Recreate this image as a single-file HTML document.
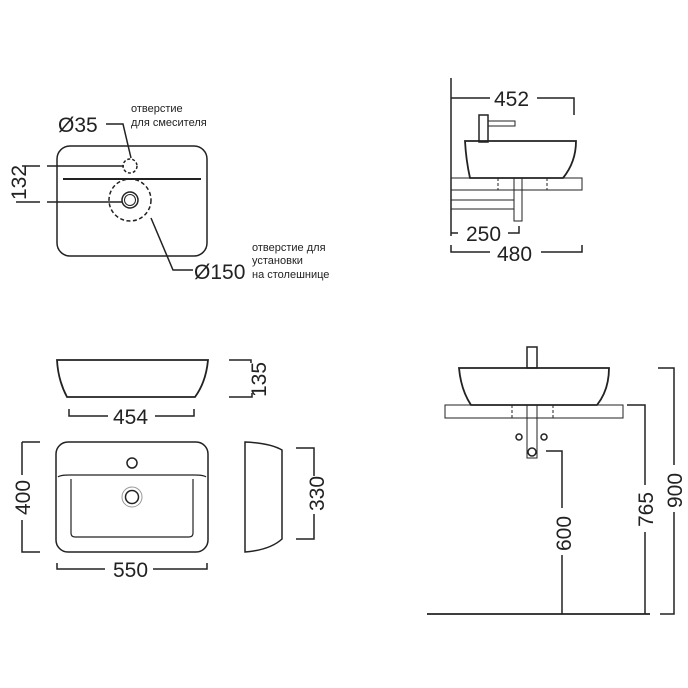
<!DOCTYPE html>
<html><head><meta charset="utf-8"><style>body{margin:0;background:#fff}svg{display:block}text{font-family:"Liberation Sans",sans-serif;fill:#222}</style></head><body>
<svg width="688" height="688" viewBox="0 0 688 688" xmlns="http://www.w3.org/2000/svg" fill="none" stroke="#222" stroke-width="1.5">
<rect x="57" y="146" width="150" height="110" rx="13"/>
<line x1="63" y1="179" x2="201" y2="179" stroke-width="2"/>
<circle cx="130" cy="166" r="7" stroke-dasharray="3 2"/>
<circle cx="130" cy="200" r="21" stroke-dasharray="4 2.5"/>
<circle cx="130" cy="200" r="8"/><circle cx="130" cy="200" r="5.5" stroke-width="1"/>
<path d="M22 166H40M47 166H124M16 202H40M47 202H122"/>
<text x="0" y="0" font-size="21" transform="translate(26,200) rotate(-90)" stroke="none">132</text>
<text x="58" y="132" font-size="21" stroke="none">Ø35</text>
<path d="M106 124H123L131 158"/>
<text x="131" y="112" font-size="11" stroke="none">отверстие</text>
<text x="131" y="126" font-size="11" stroke="none">для смесителя</text>
<path d="M151 218L173 270H193"/>
<text x="194" y="279" font-size="21" stroke="none">Ø150</text>
<text x="252" y="251" font-size="11" stroke="none">отверстие для</text>
<text x="252" y="264" font-size="11" stroke="none">установки</text>
<text x="252" y="278" font-size="11" stroke="none">на столешнице</text>
<path d="M451 78V236"/>
<path d="M451 98H490M537 98H574V115"/>
<text x="494" y="106" font-size="21" stroke="none">452</text>
<rect x="479" y="115" width="9" height="27"/>
<rect x="488" y="121" width="27" height="5" stroke-width="1"/>
<path d="M465 141H576Q576 162 563 178H470Q466 160 465 141Z" stroke-width="1.8"/>
<rect x="451" y="178" width="131" height="12" stroke-width="1"/>
<path d="M498 178V190M547 178V190M498 190H547" stroke-dasharray="3 2" stroke-width="1"/>
<path d="M451 200H514M451 209H514" stroke-width="1"/>
<rect x="514" y="178" width="8" height="43" stroke-width="1"/>
<path d="M451 233H458M508 233H519V226"/>
<text x="466" y="241" font-size="21" stroke="none">250</text>
<path d="M451 245V252H490M541 252H582V245"/>
<text x="497" y="261" font-size="21" stroke="none">480</text>
<path d="M57 360H208Q206 382 195 397H67Q58 380 57 360Z" stroke-width="1.8"/>
<path d="M69 409V416H108M155 416H194V409"/>
<text x="113" y="424" font-size="21" stroke="none">454</text>
<path d="M229 360H251V363M229 397H252V393"/>
<text x="0" y="0" font-size="21" transform="translate(266,397) rotate(-90)" stroke="none">135</text>
<rect x="56" y="442" width="152" height="110" rx="12"/>
<path d="M58 477Q60 475 70 475H194Q204 475 206 477" stroke-width="1.2"/>
<path d="M71 479V533Q71 537 75 537H189Q193 537 193 533V479" stroke-width="1.2"/>
<circle cx="132" cy="463" r="5"/>
<circle cx="132" cy="497" r="10" stroke="#999" stroke-width="1"/>
<circle cx="132" cy="497" r="6.5"/>
<path d="M22 442H40M22 442V475M22 520V552H40"/>
<text x="0" y="0" font-size="21" transform="translate(30,515) rotate(-90)" stroke="none">400</text>
<path d="M57 563V569H105M153 569H207V563"/>
<text x="113" y="577" font-size="21" stroke="none">550</text>
<path d="M245 442Q270 443 282 450V539Q270 550 245 552Z"/>
<path d="M296 448H314V476M314 514V539H296"/>
<text x="0" y="0" font-size="21" transform="translate(324,511) rotate(-90)" stroke="none">330</text>
<rect x="527" y="347" width="10" height="21"/>
<path d="M459 368H609Q609 390 597 405H471Q461 390 459 368Z" stroke-width="1.8"/>
<rect x="445" y="405" width="178" height="13" stroke-width="1"/>
<path d="M512 405V418M553 405V418M512 418H553" stroke-dasharray="3 2" stroke-width="1"/>
<rect x="527" y="405" width="10" height="53" stroke-width="1"/>
<circle cx="519" cy="437" r="3"/><circle cx="544" cy="437" r="3"/><circle cx="532" cy="452" r="4"/>
<path d="M546 451H562V508M562 555V614"/>
<text x="0" y="0" font-size="21" transform="translate(571,551) rotate(-90)" stroke="none">600</text>
<path d="M627 405H645V485M645 532V614"/>
<text x="0" y="0" font-size="21" transform="translate(653,527) rotate(-90)" stroke="none">765</text>
<path d="M658 368H674V465M674 512V614H660"/>
<text x="0" y="0" font-size="21" transform="translate(682,508) rotate(-90)" stroke="none">900</text>
<path d="M427 614H650" stroke-width="1.8"/>
</svg>
</body></html>
